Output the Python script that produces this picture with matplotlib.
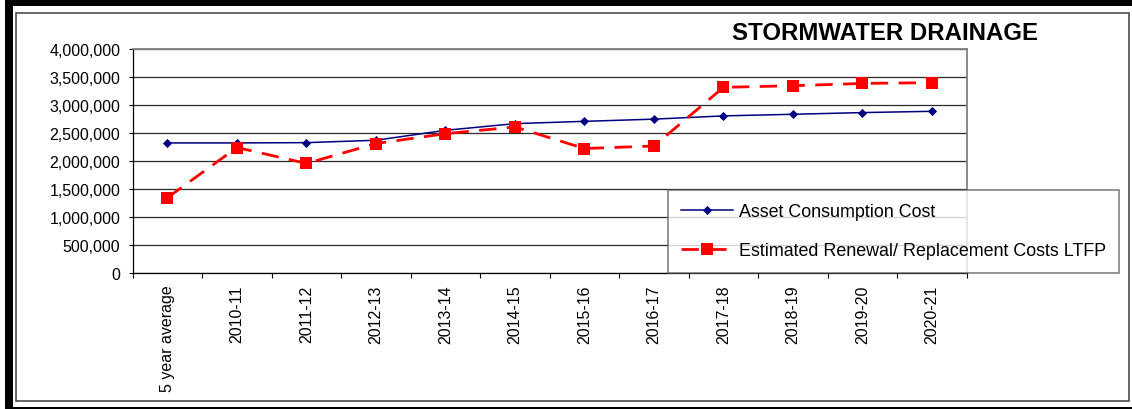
import matplotlib
matplotlib.use("Agg")
import matplotlib.pyplot as plt
from matplotlib.patches import Rectangle
from matplotlib.ticker import FixedLocator, FuncFormatter

# ---- data ----
categories = ["5 year average", "2010-11", "2011-12", "2012-13", "2013-14", "2014-15",
              "2015-16", "2016-17", "2017-18", "2018-19", "2019-20", "2020-21"]
asset_consumption = [2325000, 2325000, 2330000, 2373000, 2550000, 2669000,
                     2710000, 2749000, 2807000, 2836000, 2866000, 2889000]
renewal_ltfp = [1349000, 2243000, 1959000, 2314000, 2490000, 2610000,
                2225000, 2270000, 3316000, 3345000, 3386000, 3400000]
series_names = ["Asset Consumption Cost", "Estimated Renewal/ Replacement Costs LTFP"]
title = "STORMWATER DRAINAGE"
y_ticks = [0, 500000, 1000000, 1500000, 2000000, 2500000, 3000000, 3500000, 4000000]

plt.rcParams["font.family"] = ["Liberation Sans", "DejaVu Sans"]
plt.rcParams["lines.scale_dashes"] = False

W, H = 1132, 410
fig = plt.figure(figsize=(W / 100, H / 100), dpi=100)


def fx(px):
    return px / W


def fy(py):
    return (H - py) / H


# outer frames
fig.add_artist(Rectangle((fx(5), fy(7)), fx(W) - fx(5), 1 - fy(7), transform=fig.transFigure,
                         facecolor="black", edgecolor="none", zorder=0))
fig.add_artist(Rectangle((fx(5), 0), fx(13) - fx(5), 1, transform=fig.transFigure,
                         facecolor="black", edgecolor="none", zorder=0))
fig.add_artist(Rectangle((fx(5), 0), 1 - fx(5), fy(408), transform=fig.transFigure,
                         facecolor="black", edgecolor="none", zorder=0))
fig.add_artist(Rectangle((fx(16), fy(401.7)), fx(1128.7) - fx(16), fy(13.5) - fy(401.7),
                         transform=fig.transFigure, facecolor="none", edgecolor="#3c3c3c",
                         linewidth=1.1, zorder=1))

left, right, top, bottom = 132.7, 966.7, 50.0, 274.3
ax = fig.add_axes([fx(left), fy(bottom), fx(right) - fx(left), fy(top) - fy(bottom)])

x = list(range(len(categories)))
ax.plot(x, asset_consumption, color="#000080", linewidth=1.1, marker="D", markersize=4.4,
        markeredgewidth=0.6, markeredgecolor="#000080", label=series_names[0], zorder=3)
ax.plot(x, renewal_ltfp, color="#FF0000", linewidth=2.0, dashes=(12.5, 7.5), marker="s",
        markersize=8.6, markeredgewidth=0, label=series_names[1], zorder=4)

ax.set_xlim(-0.5, len(categories) - 0.5)
ax.set_ylim(0, 4000000)
ax.yaxis.set_major_locator(FixedLocator(y_ticks))
ax.yaxis.set_major_formatter(FuncFormatter(lambda v, p: f"{int(v):,}"))
ax.grid(axis="y", color="#2a2a2a", linewidth=0.9)
ax.set_axisbelow(True)

ax.xaxis.set_major_locator(FixedLocator([i - 0.5 for i in range(len(categories) + 1)]))
ax.xaxis.set_minor_locator(FixedLocator(x))
ax.xaxis.set_major_formatter(FuncFormatter(lambda v, p: ""))
ax.set_xticks(x, minor=True)
ax.set_xticklabels(categories, minor=True, rotation=90, va="top", ha="center", fontsize=11.5)
ax.tick_params(axis="x", which="major", direction="out", length=3.6, width=0.8, color="black")
ax.tick_params(axis="x", which="minor", length=0, pad=8)
ax.tick_params(axis="y", direction="out", length=3.0, width=0.8, pad=6, labelsize=11.5)

for s in ("left", "bottom"):
    ax.spines[s].set_color("black")
    ax.spines[s].set_linewidth(0.9)
for s in ("top", "right"):
    ax.spines[s].set_color("#808080")
    ax.spines[s].set_linewidth(1.3)

leg = fig.legend(loc="upper left", bbox_to_anchor=(fx(668), fy(190.7)), borderaxespad=0,
                 fontsize=12.9, frameon=True, fancybox=False, shadow=False,
                 borderpad=0.74, handlelength=2.9, handletextpad=0.32, labelspacing=1.25)
leg.get_frame().set_edgecolor("#555555")
leg.get_frame().set_linewidth(1.1)
leg.get_frame().set_facecolor("white")
leg.set_zorder(10)

fig.text(fx(732), fy(34), title, fontsize=17.3, fontweight="bold", ha="left", va="center")

fig.savefig("out.png", dpi=100)
